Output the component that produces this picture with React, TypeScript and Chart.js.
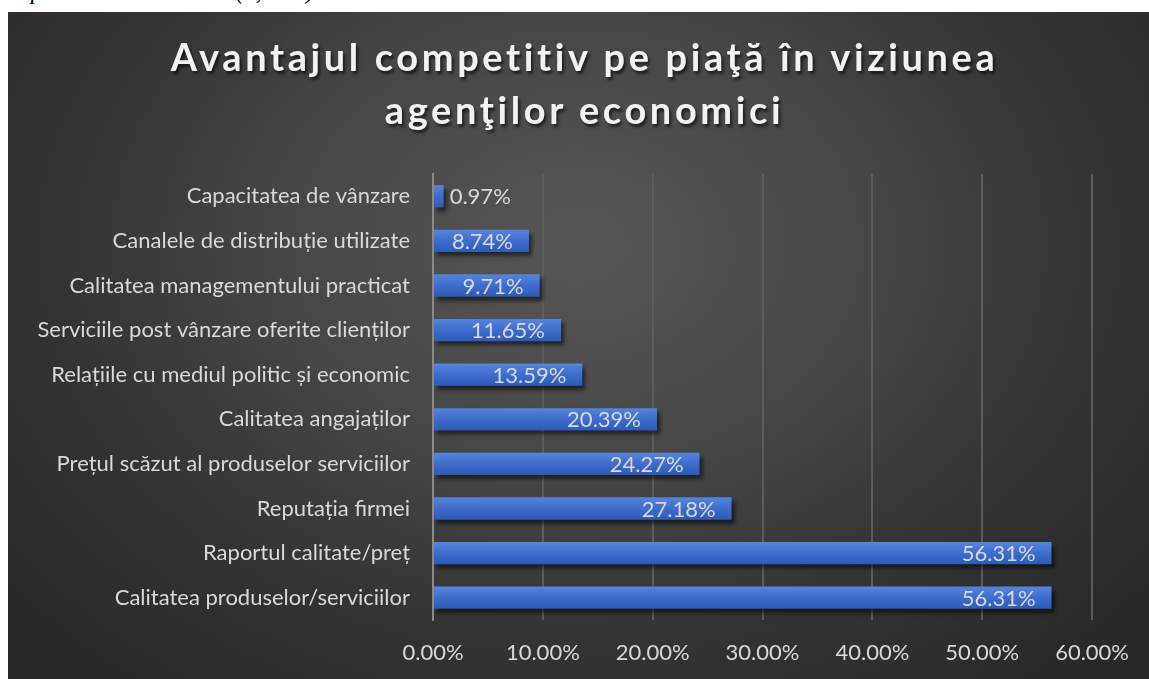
import React, { useEffect, useRef } from "react";
import { Chart, registerables } from "chart.js";

Chart.register(...registerables);

const titleLines = ["Avantajul competitiv pe piaţă în viziunea", "agenţilor economici"];

const categories = [
  "Capacitatea de vânzare",
  "Canalele de distribuție utilizate",
  "Calitatea managementului practicat",
  "Serviciile post vânzare oferite clienților",
  "Relațiile cu mediul politic și economic",
  "Calitatea angajaților",
  "Prețul scăzut al produselor serviciilor",
  "Reputația firmei",
  "Raportul calitate/preț",
  "Calitatea produselor/serviciilor",
];

const values = [0.97, 8.74, 9.71, 11.65, 13.59, 20.39, 24.27, 27.18, 56.31, 56.31];

const xTickValues = [0, 10, 20, 30, 40, 50, 60];

const FONT = "Lato, 'Open Sans', sans-serif";
const LABEL_COLOR = "#d9d9d9";

const barDecor = {
  id: "barDecor",
  beforeDatasetsDraw(chart: any) {
    const ctx = chart.ctx;
    ctx.save();
    ctx.shadowColor = "rgba(0,0,0,0.55)";
    ctx.shadowOffsetX = 3;
    ctx.shadowOffsetY = 4;
    ctx.shadowBlur = 4;
  },
  afterDatasetsDraw(chart: any) {
    const ctx = chart.ctx;
    ctx.restore();
    const meta = chart.getDatasetMeta(0);
    const data = chart.data.datasets[0].data as number[];
    ctx.save();
    ctx.font = `22px ${FONT}`;
    ctx.fillStyle = LABEL_COLOR;
    ctx.textBaseline = "middle";
    meta.data.forEach((el: any, i: number) => {
      const text = data[i].toFixed(2) + "%";
      const w = ctx.measureText(text).width;
      const barW = el.x - el.base;
      if (barW > w + 24) {
        ctx.textAlign = "right";
        ctx.fillText(text, el.x - 16, el.y + 1);
      } else {
        ctx.textAlign = "left";
        ctx.fillText(text, el.x + 6, el.y + 1);
      }
    });
    ctx.restore();
  },
};

export default function App() {
  const canvasRef = useRef<HTMLCanvasElement | null>(null);

  useEffect(() => {
    const canvas = canvasRef.current;
    if (!canvas) return;
    const chart = new Chart(canvas, {
      type: "bar",
      data: {
        labels: categories,
        datasets: [
          {
            data: values,
            clip: false as any,
            barPercentage: 0.5,
            categoryPercentage: 1,
            borderWidth: 0,
            backgroundColor: (c: any) => {
              const ch = c.chart;
              const ys = ch.scales && ch.scales.y;
              if (!ys || c.dataIndex === undefined) return "#3f6fcf";
              const y = ys.getPixelForValue(c.dataIndex);
              if (!isFinite(y)) return "#3f6fcf";
              const g = ch.ctx.createLinearGradient(0, y - 11, 0, y + 11);
              g.addColorStop(0, "#5585dc");
              g.addColorStop(0.5, "#3d6ccd");
              g.addColorStop(1, "#2d5bb8");
              return g;
            },
          },
        ],
      },
      options: {
        indexAxis: "y",
        responsive: false,
        animation: false,
        devicePixelRatio: 1,
        layout: { padding: { top: 162, right: 56, bottom: 0, left: 0 } },
        plugins: {
          legend: { display: false },
          title: { display: false },
          tooltip: { enabled: false },
        },
        scales: {
          x: {
            min: 0,
            max: 60,
            afterBuildTicks: (scale: any) => {
              scale.ticks = xTickValues.map((v) => ({ value: v }));
            },
            afterFit: (scale: any) => {
              scale.height = 59;
            },
            ticks: {
              callback: (v: any) => Number(v).toFixed(2) + "%",
              color: LABEL_COLOR,
              font: { family: FONT, size: 22 },
              padding: 20,
              maxRotation: 0,
            },
            grid: { color: "#5c5c5c", lineWidth: 2, drawTicks: false },
            border: { display: false },
          },
          y: {
            afterFit: (scale: any) => {
              scale.width = 425;
            },
            ticks: {
              color: LABEL_COLOR,
              font: { family: FONT, size: 22 },
              padding: 23,
            },
            grid: { display: false, drawTicks: false },
            border: { display: true, color: "#8a8a8a", width: 2 },
          },
        },
      },
      plugins: [barDecor],
    });
    chart.update();
    return () => chart.destroy();
  }, []);

  return (
    <div style={{ position: "fixed", left: 0, top: 0, width: 1149, height: 679, overflow: "hidden", background: "#fff" }}>
      <div
        style={{
          position: "absolute",
          left: 8,
          top: -21,
          fontFamily: "'Liberation Serif', 'Times New Roman', serif",
          fontStyle: "italic",
          fontSize: 24,
          lineHeight: "24px",
          whiteSpace: "nowrap",
          color: "#000",
        }}
      >
        capacitatea de vânzare (0,97%).
      </div>
      <div
        style={{
          position: "absolute",
          left: 8,
          top: 12,
          width: 1141,
          height: 667,
          background:
            "radial-gradient(ellipse farthest-corner at 50% 35%, #565656 0%, #474747 35%, #333333 65%, #262626 100%)",
          overflow: "hidden",
        }}
      >
        <canvas ref={canvasRef} width={1141} height={667} style={{ position: "absolute", left: 0, top: 0, width: 1141, height: 667 }} />
        <div
          style={{
            position: "absolute",
            left: 6,
            top: 18,
            width: 1141,
            textAlign: "center",
            fontFamily: FONT,
            fontWeight: 700,
            fontSize: 38,
            lineHeight: "53px",
            letterSpacing: 3.6,
            color: "#f2f2f2",
            textShadow: "2px 3px 3px rgba(0,0,0,0.6)",
          }}
        >
          {titleLines.map((t, i) => (
            <div key={i}>{t}</div>
          ))}
        </div>
      </div>
    </div>
  );
}
